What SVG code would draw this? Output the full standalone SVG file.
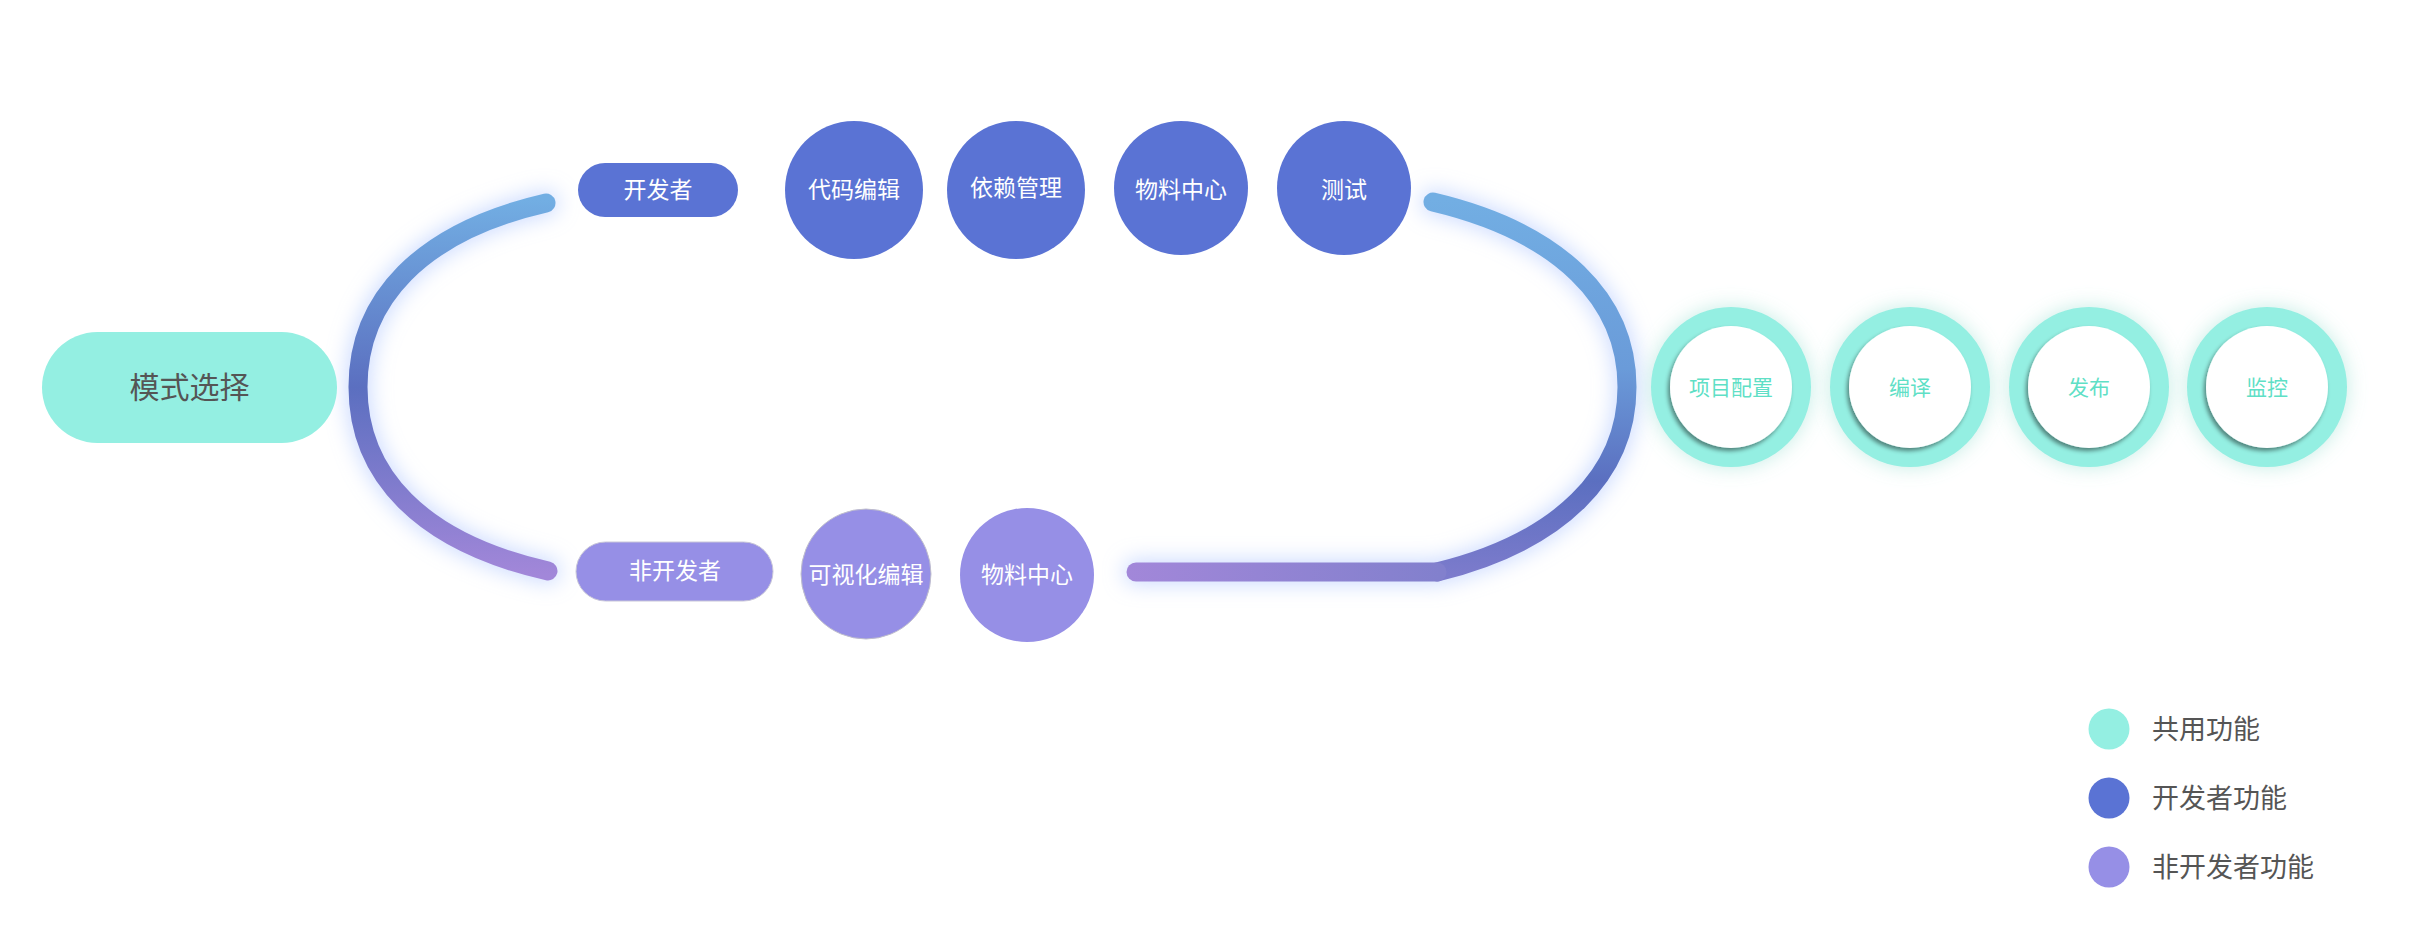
<svg xmlns="http://www.w3.org/2000/svg" width="2430" height="949" viewBox="0 0 2430 949">
<style>
  .t{font-family:"Noto Sans CJK SC","Noto Sans",sans-serif;dominant-baseline:central;text-anchor:middle}
  .w{fill:#ffffff;font-size:23px}
  .dev{fill:#5a73d4}
  .non{fill:#968fe6}
  .teal{fill:#94efe2}
  .tt{fill:#5fdfc6;font-size:21px}
  .lg{font-family:"Noto Sans CJK SC","Noto Sans",sans-serif;dominant-baseline:central;fill:#555555;font-size:27px}
</style>
<defs>
  <linearGradient id="gL" gradientUnits="userSpaceOnUse" x1="0" y1="200" x2="0" y2="575">
    <stop offset="0" stop-color="#72aee3"/>
    <stop offset="0.5" stop-color="#5b6fc0"/>
    <stop offset="1" stop-color="#a287d9"/>
  </linearGradient>
  <linearGradient id="gR" gradientUnits="userSpaceOnUse" x1="0" y1="200" x2="0" y2="575">
    <stop offset="0" stop-color="#72aee3"/>
    <stop offset="0.45" stop-color="#6a9bd9"/>
    <stop offset="0.75" stop-color="#5b6fc0"/>
    <stop offset="1" stop-color="#7c7bcc"/>
  </linearGradient>
  <linearGradient id="gB" gradientUnits="userSpaceOnUse" x1="1127" y1="0" x2="1440" y2="0">
    <stop offset="0" stop-color="#a287d9"/>
    <stop offset="1" stop-color="#8280cd"/>
  </linearGradient>
  <filter id="glow" x="-30%" y="-30%" width="160%" height="160%">
    <feGaussianBlur stdDeviation="10"/>
  </filter>
  <filter id="tglow" x="-40%" y="-40%" width="180%" height="180%">
    <feDropShadow dx="0" dy="0" stdDeviation="10" flood-color="#7fd6c4" flood-opacity="0.45"/>
  </filter>
  <filter id="ishadow" x="-20%" y="-20%" width="140%" height="140%">
    <feDropShadow dx="-2" dy="3" stdDeviation="2" flood-color="#000000" flood-opacity="0.45"/>
  </filter>
</defs>

<g id="connectors" fill="none" stroke-linecap="round">
  <g stroke="#a9c2ff" stroke-opacity="0.55" stroke-width="26" filter="url(#glow)">
    <path d="M546,203 C420,232 358,300 358,387 C358,474 420,542 548,571"/>
    <path d="M1433,202 C1560,232 1627,300 1627,387 C1627,474 1560,542 1437,572 L1136,572"/>
  </g>
  <path d="M546,203 C420,232 358,300 358,387 C358,474 420,542 548,571" stroke="url(#gL)" stroke-width="19"/>
  <path d="M1433,202 C1560,232 1627,300 1627,387 C1627,474 1560,542 1437,572" stroke="url(#gR)" stroke-width="19"/>
  <path d="M1437,572 L1136,572" stroke="url(#gB)" stroke-width="19"/>
</g>

<g id="mode">
  <rect x="42" y="332" width="295" height="111" rx="55.5" class="teal"/>
  <text x="189.5" y="385" class="t" fill="#555555" font-size="30">模式选择</text>
</g>

<g id="developer">
  <rect x="578" y="163" width="160" height="54" rx="27" class="dev"/>
  <text x="658" y="188" class="t w">开发者</text>
</g>
<g id="code-edit">
  <circle cx="854" cy="190" r="69" class="dev"/>
  <text x="854" y="188" class="t w">代码编辑</text>
</g>
<g id="dependency">
  <circle cx="1016" cy="190" r="69" class="dev"/>
  <text x="1016" y="186" class="t w">依赖管理</text>
</g>
<g id="material-dev">
  <circle cx="1181" cy="188" r="67" class="dev"/>
  <text x="1181" y="188" class="t w">物料中心</text>
</g>
<g id="test">
  <circle cx="1344" cy="188" r="67" class="dev"/>
  <text x="1344" y="188" class="t w">测试</text>
</g>

<g id="non-developer">
  <rect x="576" y="542" width="197" height="59" rx="29.5" class="non" stroke="#c8c6d8" stroke-width="1"/>
  <text x="675" y="569" class="t w">非开发者</text>
</g>
<g id="visual-edit">
  <circle cx="866" cy="574" r="65" class="non" stroke="#c0bfcc" stroke-width="1"/>
  <text x="866" y="573" class="t w" font-size="22.5">可视化编辑</text>
</g>
<g id="material-non">
  <circle cx="1027" cy="575" r="67" class="non"/>
  <text x="1027" y="573" class="t w">物料中心</text>
</g>

<g id="project-config">
  <circle cx="1731" cy="387" r="80" class="teal" filter="url(#tglow)"/>
  <circle cx="1731" cy="387" r="61" fill="#ffffff" filter="url(#ishadow)"/>
  <text x="1731" y="386" class="t tt">项目配置</text>
</g>
<g id="compile">
  <circle cx="1910" cy="387" r="80" class="teal" filter="url(#tglow)"/>
  <circle cx="1910" cy="387" r="61" fill="#ffffff" filter="url(#ishadow)"/>
  <text x="1910" y="386" class="t tt">编译</text>
</g>
<g id="publish">
  <circle cx="2089" cy="387" r="80" class="teal" filter="url(#tglow)"/>
  <circle cx="2089" cy="387" r="61" fill="#ffffff" filter="url(#ishadow)"/>
  <text x="2089" y="386" class="t tt">发布</text>
</g>
<g id="monitor">
  <circle cx="2267" cy="387" r="80" class="teal" filter="url(#tglow)"/>
  <circle cx="2267" cy="387" r="61" fill="#ffffff" filter="url(#ishadow)"/>
  <text x="2267" y="386" class="t tt">监控</text>
</g>

<g id="legend">
  <circle cx="2109" cy="729" r="20.5" class="teal"/>
  <text x="2152" y="727" class="lg">共用功能</text>
  <circle cx="2109" cy="798" r="20.5" class="dev"/>
  <text x="2152" y="796" class="lg">开发者功能</text>
  <circle cx="2109" cy="867" r="20.5" class="non"/>
  <text x="2152" y="865" class="lg">非开发者功能</text>
</g>
</svg>
